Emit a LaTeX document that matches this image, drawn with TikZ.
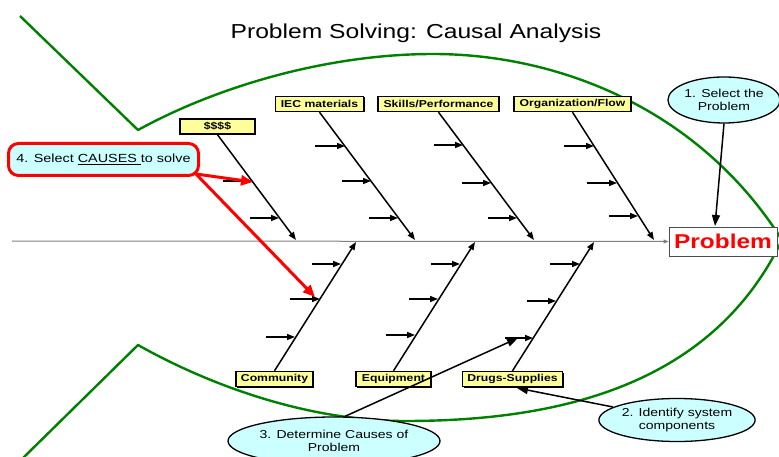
\documentclass[tikz,border=0pt]{standalone}
\usepackage{fontspec}
\setmainfont[FakeStretch=1.22]{Liberation Sans}
\usetikzlibrary{arrows.meta,calc,shapes.geometric,shadows}
\definecolor{labfill}{HTML}{FFFF99}
\definecolor{callfill}{HTML}{CCFFFF}
\definecolor{fishgreen}{HTML}{008000}
\definecolor{spinegray}{HTML}{7F7F7F}

\begin{document}
\begin{tikzpicture}[x=1pt,y=-1pt,
  lab/.style={draw=black, line width=1.4pt, fill=labfill, inner sep=0pt,
    minimum height=15pt, font=\bfseries\fontsize{10}{11}\selectfont,
    drop shadow={shadow xshift=1pt, shadow yshift=-1pt, opacity=1, fill=black}},
  bone/.style={line width=1.5pt, -{Triangle[length=8pt,width=6pt]}},
  twig/.style={line width=1.5pt, -{Triangle[length=8pt,width=6pt]}},
  fish/.style={draw=fishgreen, line width=2.4pt, line join=round},
  callout/.style={ellipse, draw=black, line width=1.3pt, fill=callfill, inner sep=0pt,
    align=center, font=\fontsize{11.5}{13}\selectfont},
  pointer/.style={line width=1.5pt, -{Triangle[length=11pt,width=8pt]}},
  redpointer/.style={draw=red, line width=3pt, -{Triangle[length=12pt,width=10pt]}, red},
]
\useasboundingbox (0,0) rectangle (779,457);
\clip (0,0) rectangle (779,457);

% fish outline: tail and body
\draw[fish] (20,16) -- (138,130)
  .. controls (220,85) and (330,54) .. (433,54)
  .. controls (560,54) and (700,110) .. (782,240)
  .. controls (710,390) and (550,421) .. (405,421)
  .. controls (300,421) and (200,380) .. (138,345) -- (23,458);

% title
\node (title) at (416,33) {\fontsize{20.2}{22}\selectfont Problem Solving: Causal Analysis};

% effect box and spine
\node[draw=black!70, line width=0.8pt, fill=white, minimum width=108pt, minimum height=29pt,
  inner sep=0pt, text=red, font=\bfseries\fontsize{20}{22}\selectfont] (prob) at (723,241.5) {Problem};
\coordinate (spinestart) at (12,241);
\draw[draw=spinegray, line width=1pt, -{Triangle[length=5pt,width=4pt]}] (spinestart) -- (prob.west);

% category labels
\node[lab, minimum width=75pt] (money) at (217.5,126.5) {\$\$\$\$};
\node[lab, minimum width=88pt] (iec) at (319.5,104) {IEC materials};
\node[lab, minimum width=121pt] (skills) at (438.5,104) {Skills/Performance};
\node[lab, minimum width=117pt] (org) at (572.5,104) {Organization/Flow};
\node[lab, minimum width=77pt] (comm) at (274.5,379) {Community};
\node[lab, minimum width=75pt] (equip) at (393.5,379) {Equipment};
\node[lab, minimum width=100pt] (drugs) at (512.5,379) {Drugs-Supplies};

% bone ends on the spine
\coordinate (tmoney) at (296,240);
\coordinate (tiec) at (415,240);
\coordinate (tskills) at (534,240);
\coordinate (torg) at (654,240);
\coordinate (bcomm) at (356,242);
\coordinate (bequip) at (475,242);
\coordinate (bdrugs) at (594,242);

\draw[bone] (money.south) -- (tmoney);
\draw[bone] (iec.south) -- (tiec);
\draw[bone] (skills.south) -- (tskills);
\draw[bone] (org.south) -- (torg);
\draw[bone] (comm.north) -- (bcomm);
\draw[bone] (equip.north) -- (bequip);
\draw[bone] (drugs.north) -- (bdrugs);

% sub-causes
\foreach \n/\xs/\xe/\y in {
  m1/223/252/181, m2/250/279/218,
  i1/315/345/146, i2/342/371/181, i3/369/398/218,
  s1/434/463/145, s2/462/491/183, s3/488/517/218,
  o1/564/594/146, o2/587/617/183, o3/609/638/216,
  c1/312/341/264, c2/290/320/299, c3/266/295/337,
  e1/431/460/264, e2/409/438/299, e3/386/415/335,
  d1/550/580/264, d2/527/556/301, d3/505/533/338}
{
  \coordinate (s\n) at (\xs,\y);
  \coordinate (e\n) at (\xe,\y);
  \draw[twig] (s\n) -- (e\n);
}

% step callouts
\node[callout, minimum width=110pt, minimum height=46pt] (step1) at (724,100) {1. Select the\\Problem};
\node[callout, minimum width=150pt, minimum height=43pt] (step2) at (677,420) {2. Identify system\\components};
\node[callout, minimum width=212pt, minimum height=48pt] (step3) at (334,441) {3. Determine Causes of\\Problem};
\node[draw=red, line width=3pt, fill=callfill, rounded corners=10pt, minimum width=190pt,
  minimum height=32pt, inner sep=0pt, font=\fontsize{11.8}{13}\selectfont] (step4) at (103.5,159.5)
  {4. Select \underline{CAUSES\ }to solve};

\coordinate (p1) at (715,226);
\draw[pointer] (step1.south) -- (p1);
\coordinate (p2) at (517,388);
\path (step2) ++(-64,-13) coordinate (q2);
\draw[pointer] (q2) -- (p2);
\coordinate (p3) at (518,338);
\path (step3.north) ++(11,0) coordinate (q3);
\draw[pointer] (q3) -- (p3);

\coordinate (r1) at (253,182);
\coordinate (r2) at (315,297);
\path (step4.south east) ++(-4,-3) coordinate (r0);
\draw[redpointer] (r0) -- (r1);
\draw[redpointer] (r0) -- (r2);
\end{tikzpicture}
\end{document}
